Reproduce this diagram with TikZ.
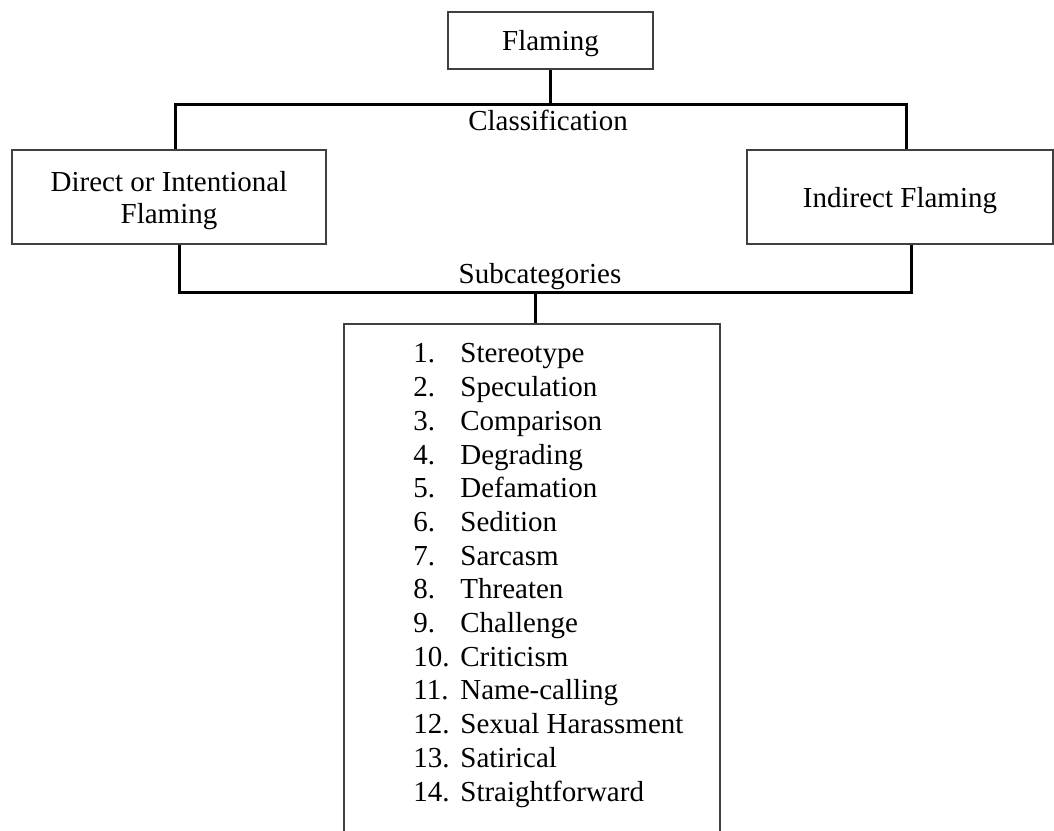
\documentclass[tikz,border=0pt]{standalone}
\usepackage{fontspec}
\setmainfont{Liberation Serif}
\begin{document}
\begin{tikzpicture}[x=0.5pt,y=-0.5pt,
  box/.style={draw=black!75, line width=0.6pt, inner sep=0pt, align=center,
    text depth=0pt, font=\fontsize{14.5}{16}\selectfont},
  conn/.style={line width=1.5pt},
  lbl/.style={inner sep=0pt, font=\fontsize{14.5}{16}\selectfont},
  items/.style={inner sep=0pt, align=left, font=\fontsize{14.5}{16.85}\selectfont}]
\useasboundingbox (0,0) rectangle (1054,830);
\clip (0,0) rectangle (1054,830);
\node[box, minimum width=102.5pt, minimum height=28.5pt] (flaming) at (550.5,40.5) {Flaming};
\node[box, minimum width=157pt, minimum height=47pt] (direct) at (169,197) {Direct or Intentional\\Flaming};
\node[box, minimum width=153pt, minimum height=47pt] (indirect) at (900,197) {Indirect Flaming};
\node[box, minimum width=188pt, minimum height=264pt] (listbox) at (532,588) {};
\node[lbl, anchor=base] (cls) at (548,130) {Classification};
\node[lbl, anchor=base] (sub) at (540,283) {Subcategories};
\node[items, anchor=base west] (list) at (413,801) {%
\makebox[23.5pt][l]{1.}Stereotype\\
\makebox[23.5pt][l]{2.}Speculation\\
\makebox[23.5pt][l]{3.}Comparison\\
\makebox[23.5pt][l]{4.}Degrading\\
\makebox[23.5pt][l]{5.}Defamation\\
\makebox[23.5pt][l]{6.}Sedition\\
\makebox[23.5pt][l]{7.}Sarcasm\\
\makebox[23.5pt][l]{8.}Threaten\\
\makebox[23.5pt][l]{9.}Challenge\\
\makebox[23.5pt][l]{10.}Criticism\\
\makebox[23.5pt][l]{11.}Name-calling\\
\makebox[23.5pt][l]{12.}Sexual Harassment\\
\makebox[23.5pt][l]{13.}Satirical\\
\makebox[23.5pt][l]{14.}Straightforward};
\coordinate (t) at (550,104);
\coordinate (tl) at (175,104);
\coordinate (tr) at (906,104);
\coordinate (bl) at (179,292);
\coordinate (br) at (911,292);
\coordinate (b) at (535,292);
\draw[conn] (flaming.south -| t) -- (t);
\draw[conn] (tl |- direct.north) -- (tl) -- (tr) -- (tr |- indirect.north);
\draw[conn] (bl |- direct.south) -- (bl) -- (br) -- (br |- indirect.south);
\draw[conn] (b) -- (b |- listbox.north);
\end{tikzpicture}
\end{document}
